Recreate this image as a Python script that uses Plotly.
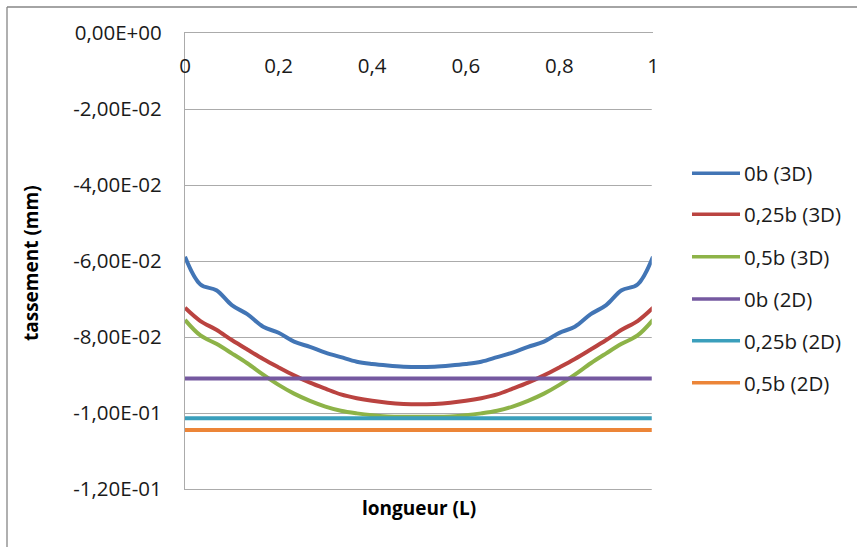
import plotly.graph_objects as go

# ---- data ----
x_vals = [0, 0.033, 0.067, 0.1, 0.133, 0.167, 0.2, 0.233, 0.267, 0.3, 0.333,
          0.367, 0.4, 0.433, 0.467, 0.5, 0.533, 0.567, 0.6, 0.633, 0.667,
          0.7, 0.733, 0.767, 0.8, 0.833, 0.867, 0.9, 0.933, 0.967, 1]

s_0b_3d = [-0.0589, -0.0662, -0.0677, -0.0716, -0.0740, -0.0773, -0.0789, -0.0812,
           -0.0826, -0.0841, -0.0853, -0.0865, -0.0871, -0.0875, -0.0878, -0.0879,
           -0.0878, -0.0875, -0.0871, -0.0865, -0.0853, -0.0841, -0.0826, -0.0812,
           -0.0789, -0.0773, -0.0740, -0.0716, -0.0677, -0.0662, -0.0589]

s_025b_3d = [-0.0723, -0.0758, -0.0781, -0.0808, -0.0833, -0.0858, -0.0880, -0.0901,
             -0.0920, -0.0936, -0.0951, -0.0961, -0.0968, -0.0973, -0.0976, -0.0977,
             -0.0976, -0.0973, -0.0968, -0.0961, -0.0951, -0.0936, -0.0920, -0.0901,
             -0.0880, -0.0858, -0.0833, -0.0808, -0.0781, -0.0758, -0.0723]

s_05b_3d = [-0.0755, -0.0796, -0.0818, -0.0843, -0.0869, -0.0899, -0.0926, -0.0949,
            -0.0968, -0.0983, -0.0994, -0.1001, -0.1006, -0.1009, -0.1010, -0.1010,
            -0.1010, -0.1009, -0.1006, -0.1001, -0.0994, -0.0983, -0.0968, -0.0949,
            -0.0926, -0.0899, -0.0869, -0.0843, -0.0818, -0.0796, -0.0755]

x_2d = [0, 1]
s_0b_2d = [-0.0909, -0.0909]
s_025b_2d = [-0.1014, -0.1014]
s_05b_2d = [-0.1045, -0.1045]

series_names = ["0b (3D)", "0,25b (3D)", "0,5b (3D)", "0b (2D)", "0,25b (2D)", "0,5b (2D)"]
series_colors = ["#4275B5", "#BA4340", "#8DB348", "#7559A0", "#3B9FBC", "#EC8538"]

x_tick_vals = [0, 0.2, 0.4, 0.6, 0.8, 1]
x_tick_labels = ["0", "0,2", "0,4", "0,6", "0,8", "1"]
y_tick_vals = [0, -0.02, -0.04, -0.06, -0.08, -0.10, -0.12]
y_tick_labels = ["0,00E+00", "-2,00E-02", "-4,00E-02", "-6,00E-02", "-8,00E-02",
                 "-1,00E-01", "-1,20E-01"]

x_title = "longueur (L)"
y_title = "tassement (mm)"

# ---- figure ----
W, H = 857, 547
L, R, T, B = 185, 204, 33, 58
pw, ph = W - L - R, H - T - B


def px_x(p):
    return (p - L) / pw


def px_y(p):
    return (H - B - p) / ph


font_family = "Open Sans, Noto Sans, sans-serif"
grid_col = "#ABABAB"

fig = go.Figure()
xs_list = [x_vals, x_vals, x_vals, x_2d, x_2d, x_2d]
ys_list = [s_0b_3d, s_025b_3d, s_05b_3d, s_0b_2d, s_025b_2d, s_05b_2d]
for i, (xs, ys) in enumerate(zip(xs_list, ys_list)):
    fig.add_trace(go.Scatter(
        x=xs, y=ys, mode="lines", name=series_names[i],
        xaxis="x" if i < 3 else "x2",
        yaxis="y" if i < 3 else "y2",
        line=dict(color=series_colors[i], width=4, shape="spline", smoothing=1),
        showlegend=False,
    ))

shapes = []
annotations = []
# manual legend
legend_rows = [173.3, 214.3, 256.7, 299, 340.7, 382.7]
for i, yr in enumerate(legend_rows):
    shapes.append(dict(type="line", xref="paper", yref="paper",
                       x0=px_x(692), x1=px_x(740), y0=px_y(yr), y1=px_y(yr),
                       line=dict(color=series_colors[i], width=3.5)))
    annotations.append(dict(xref="paper", yref="paper", x=px_x(742), y=px_y(yr),
                            xanchor="left", yanchor="middle", showarrow=False,
                            text=series_names[i],
                            font=dict(family=font_family, size=20.5, color="#1a1a1a")))

# outer frame (top and left edges visible)
frame_col = "#868686"
shapes.append(dict(type="line", xref="paper", yref="paper",
                   x0=px_x(7), x1=px_x(857), y0=px_y(7), y1=px_y(7),
                   line=dict(color=frame_col, width=1.3), layer="below"))
shapes.append(dict(type="line", xref="paper", yref="paper",
                   x0=px_x(7), x1=px_x(7), y0=px_y(7), y1=px_y(547),
                   line=dict(color=frame_col, width=1.3), layer="below"))
# keep the right edge of the plot area open (no border there), avoiding the "1" label
for (ya, yb) in [(34.5, 52), (80, 491)]:
    shapes.append(dict(type="line", xref="paper", yref="paper",
                       x0=1.0, x1=1.0, y0=px_y(yb), y1=px_y(ya),
                       line=dict(color="white", width=2.5), layer="above"))

annotations.append(dict(xref="paper", yref="paper", x=px_x(419), y=px_y(508),
                        xanchor="center", yanchor="middle", showarrow=False,
                        text="<b>" + x_title + "</b>",
                        font=dict(family=font_family, size=19, color="#000000")))
annotations.append(dict(xref="paper", yref="paper", x=px_x(31), y=px_y(263),
                        xanchor="center", yanchor="middle", showarrow=False,
                        textangle=-90, text="<b>" + y_title + "</b>",
                        font=dict(family=font_family, size=19, color="#000000")))

fig.update_layout(
    width=W, height=H,
    margin=dict(l=L, r=R, t=T, b=B, autoexpand=False),
    paper_bgcolor="white", plot_bgcolor="white",
    font=dict(family=font_family, size=20, color="#1a1a1a"),
    shapes=shapes, annotations=annotations,
    xaxis=dict(range=[0, 1], side="top", showticklabels=False,
               showgrid=False, zeroline=False, showline=True, mirror=True,
               linecolor=grid_col, linewidth=1.3, ticks=""),
    xaxis2=dict(range=[0, 1], overlaying="x", anchor="free", position=px_y(51),
                side="bottom", tickvals=x_tick_vals, ticktext=x_tick_labels,
                showgrid=False, zeroline=False, showline=False, ticks="",
                tickfont=dict(size=20.5)),
    yaxis=dict(range=[-0.12, 0], tickvals=y_tick_vals, ticktext=y_tick_labels,
               showgrid=True, gridcolor=grid_col, gridwidth=1.3, zeroline=False,
               showline=True, mirror=False, linecolor=grid_col, linewidth=1.3,
               ticks="", ticklabelstandoff=18, tickfont=dict(size=20.5)),
    yaxis2=dict(range=[-0.12, 0], overlaying="y", anchor="x2", visible=False,
                showgrid=False, zeroline=False, showline=False),
)

fig.write_html("out.html")
